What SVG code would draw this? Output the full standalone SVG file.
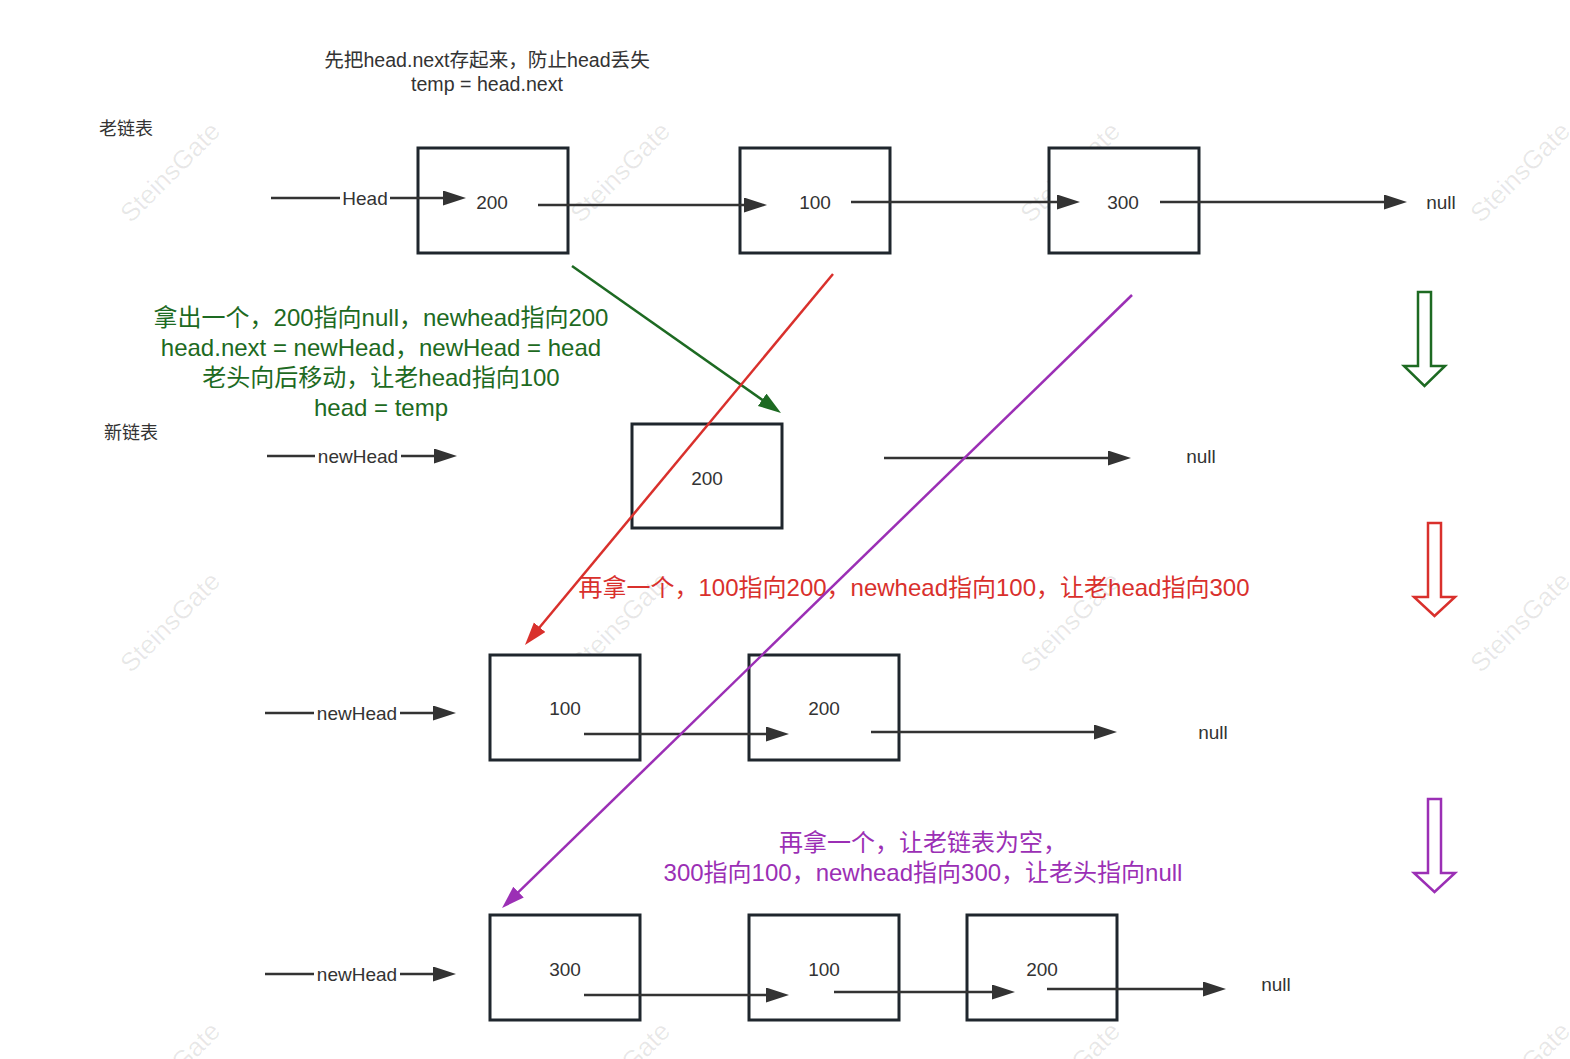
<svg xmlns="http://www.w3.org/2000/svg" width="1570" height="1059" viewBox="0 0 1570 1059">
<style>
.box{fill:#fff;stroke:#1f262d;stroke-width:3}
.t{font-family:"Liberation Sans","Noto Sans CJK SC",sans-serif;fill:#333;font-size:19px;text-anchor:middle;dominant-baseline:central}
.top{font-size:19.6px}
.lbl{font-family:"Liberation Sans","Noto Sans CJK SC",sans-serif;fill:#333;font-size:18px;dominant-baseline:central}
.big{font-family:"Liberation Sans","Noto Sans CJK SC",sans-serif;font-size:24px;text-anchor:middle;dominant-baseline:central}
.wm{font-family:"Liberation Sans",sans-serif;font-size:26px;fill:#000;fill-opacity:0.09;text-anchor:middle;dominant-baseline:central}
.ln{fill:none;stroke:#333;stroke-width:2.6;marker-end:url(#ad)}
.bg{fill:#fff}
</style>
<defs>
<marker id="ad" markerUnits="userSpaceOnUse" markerWidth="24" markerHeight="16" refX="2" refY="7.5" orient="auto"><path d="M0,0 L23,7.5 L0,15 z" fill="#333"/></marker>
<marker id="ag" markerUnits="userSpaceOnUse" markerWidth="24" markerHeight="16" refX="2" refY="7.5" orient="auto"><path d="M0,0 L23,7.5 L0,15 z" fill="#1d6a22"/></marker>
<marker id="ar" markerUnits="userSpaceOnUse" markerWidth="24" markerHeight="16" refX="2" refY="7.5" orient="auto"><path d="M0,0 L23,7.5 L0,15 z" fill="#d9302c"/></marker>
<marker id="ap" markerUnits="userSpaceOnUse" markerWidth="24" markerHeight="16" refX="2" refY="7.5" orient="auto"><path d="M0,0 L23,7.5 L0,15 z" fill="#9b2fb5"/></marker>
</defs>
<rect width="1570" height="1059" fill="#fff"/>

<g id="watermarks">
<text class="wm" transform="translate(170,172) rotate(-45)">SteinsGate</text>
<text class="wm" transform="translate(620,172) rotate(-45)">SteinsGate</text>
<text class="wm" transform="translate(1070,172) rotate(-45)">SteinsGate</text>
<text class="wm" transform="translate(1520,172) rotate(-45)">SteinsGate</text>
<text class="wm" transform="translate(170,622) rotate(-45)">SteinsGate</text>
<text class="wm" transform="translate(620,622) rotate(-45)">SteinsGate</text>
<text class="wm" transform="translate(1070,622) rotate(-45)">SteinsGate</text>
<text class="wm" transform="translate(1520,622) rotate(-45)">SteinsGate</text>
<text class="wm" transform="translate(170,1072) rotate(-45)">SteinsGate</text>
<text class="wm" transform="translate(620,1072) rotate(-45)">SteinsGate</text>
<text class="wm" transform="translate(1070,1072) rotate(-45)">SteinsGate</text>
<text class="wm" transform="translate(1520,1072) rotate(-45)">SteinsGate</text>
</g>

<g id="notes">
<text class="t top" x="487" y="60">先把head.next存起来，防止head丢失</text>
<text class="t top" x="487" y="84">temp = head.next</text>
<text class="lbl" x="99" y="129">老链表</text>
<text class="lbl" x="104" y="433">新链表</text>
<text class="big" x="381" y="317" fill="#1d6a22">拿出一个，200指向null，newhead指向200</text>
<text class="big" x="381" y="347" fill="#1d6a22">head.next = newHead，newHead = head</text>
<text class="big" x="381" y="377" fill="#1d6a22">老头向后移动，让老head指向100</text>
<text class="big" x="381" y="407" fill="#1d6a22">head = temp</text>
<text class="big" x="914" y="587" fill="#d9302c">再拿一个，100指向200，newhead指向100，让老head指向300</text>
<text class="big" x="923" y="842" fill="#9b2fb5">再拿一个，让老链表为空，</text>
<text class="big" x="923" y="872" fill="#9b2fb5">300指向100，newhead指向300，让老头指向null</text>
</g>

<g id="old-200"><rect class="box" x="418" y="148" width="150" height="105"/><text class="t" x="492" y="202">200</text></g>
<g id="old-100"><rect class="box" x="740" y="148" width="150" height="105"/><text class="t" x="815" y="202">100</text></g>
<g id="old-300"><rect class="box" x="1049" y="148" width="150" height="105"/><text class="t" x="1123" y="202">300</text></g>
<g id="old-null"><text class="t" x="1441" y="202">null</text></g>

<g id="new1-200"><rect class="box" x="632" y="424" width="150" height="104"/><text class="t" x="707" y="478">200</text></g>
<g id="new1-null"><text class="t" x="1201" y="456">null</text></g>

<g id="new2-100"><rect class="box" x="490" y="655" width="150" height="105"/><text class="t" x="565" y="708">100</text></g>
<g id="new2-200"><rect class="box" x="749" y="655" width="150" height="105"/><text class="t" x="824" y="708">200</text></g>
<g id="new2-null"><text class="t" x="1213" y="732">null</text></g>

<g id="new3-300"><rect class="box" x="490" y="915" width="150" height="105"/><text class="t" x="565" y="969">300</text></g>
<g id="new3-100"><rect class="box" x="749" y="915" width="150" height="105"/><text class="t" x="824" y="969">100</text></g>
<g id="new3-200"><rect class="box" x="967" y="915" width="150" height="105"/><text class="t" x="1042" y="969">200</text></g>
<g id="new3-null"><text class="t" x="1276" y="984">null</text></g>

<g id="step-arrows" fill="#fff" stroke-width="2.5" stroke-linejoin="miter">
<path d="M1418,292 H1431 V366 H1445 L1424.5,386 L1404,366 H1418 Z" stroke="#1d6a22"/>
<path d="M1428,523 H1441 V597 H1455 L1434.5,616 L1414,597 H1428 Z" stroke="#d9302c"/>
<path d="M1428,799 H1441 V873 H1455 L1434.5,892 L1414,873 H1428 Z" stroke="#9b2fb5"/>
</g>

<g id="connectors">
<line class="ln" x1="271" y1="198" x2="445" y2="198"/>
<rect class="bg" x="340" y="187" width="50" height="22"/>
<text class="t" x="365" y="198">Head</text>
<line class="ln" x1="538" y1="205" x2="746" y2="205"/>
<line class="ln" x1="851" y1="202" x2="1059" y2="202"/>
<line class="ln" x1="1160" y1="202" x2="1386" y2="202"/>

<line class="ln" x1="267" y1="456" x2="436" y2="456"/>
<rect class="bg" x="315" y="445" width="86" height="22"/>
<text class="t" x="358" y="456">newHead</text>
<line class="ln" x1="884" y1="458" x2="1110" y2="458"/>

<line class="ln" x1="265" y1="713" x2="435" y2="713"/>
<rect class="bg" x="314" y="702" width="86" height="22"/>
<text class="t" x="357" y="713">newHead</text>
<line class="ln" x1="584" y1="734" x2="768" y2="734"/>
<line class="ln" x1="871" y1="732" x2="1096" y2="732"/>

<line class="ln" x1="265" y1="974" x2="435" y2="974"/>
<rect class="bg" x="314" y="963" width="86" height="22"/>
<text class="t" x="357" y="974">newHead</text>
<line class="ln" x1="584" y1="995" x2="768" y2="995"/>
<line class="ln" x1="834" y1="992" x2="994" y2="992"/>
<line class="ln" x1="1047" y1="989" x2="1205" y2="989"/>

<line x1="572" y1="266" x2="763.8" y2="400.9" stroke="#1d6a22" stroke-width="2.5" marker-end="url(#ag)"/>
<line x1="833" y1="274" x2="538.4" y2="628.8" stroke="#d9302c" stroke-width="2.5" marker-end="url(#ar)"/>
<line x1="1132" y1="295" x2="517.1" y2="893.4" stroke="#9b2fb5" stroke-width="2.5" marker-end="url(#ap)"/>
</g>
</svg>
